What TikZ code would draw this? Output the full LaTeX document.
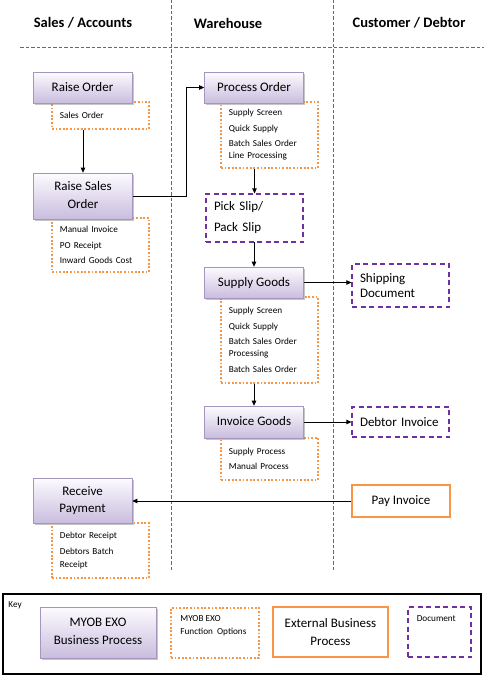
\documentclass[tikz,border=0pt]{standalone}
\usepackage{fontspec}
\setmainfont{Carlito}
\usetikzlibrary{arrows.meta,shadows}

\definecolor{lanecol}{RGB}{60,110,200}
\definecolor{exoorange}{RGB}{247,150,70}
\definecolor{docpurple}{RGB}{112,48,160}
\definecolor{proccol}{RGB}{165,150,190}
\definecolor{proctop}{RGB}{253,251,255}
\definecolor{procbottom}{RGB}{201,189,222}

\begin{document}
\begin{tikzpicture}
    [
      x=1pt, y=-1pt,
      >/.tip={Triangle[length=5pt,width=4.5pt]},
      line width=0.8pt,
      my lane/.style={draw=lanecol, line width=0.9pt, dash pattern=on 3.5pt off 2pt},
      my heading/.style={font=\fontsize{14.5}{17}\selectfont\bfseries},
      my process/.style={draw=proccol, line width=0.6pt, top color=proctop, bottom color=procbottom,
        minimum width=99pt, minimum height=31pt, align=center, font=\fontsize{13}{17.6}\selectfont,
        text depth=2pt,
        drop shadow={shadow xshift=1.5pt, shadow yshift=-2pt, fill=black!50, opacity=0.45}},
      my options/.style={draw=exoorange, line width=1.8pt, dash pattern=on 1.8pt off 1.8pt, anchor=north west,
        text width=81pt, inner xsep=8pt, align=left, font=\fontsize{9.2}{12.3}\selectfont},
      my document/.style={draw=docpurple, line width=1.2pt, dash pattern=on 5pt off 3.5pt,
        text width=81pt, inner xsep=8pt, align=left, font=\fontsize{13}{15.5}\selectfont},
      my external/.style={draw=exoorange, line width=2pt, minimum width=98pt, minimum height=32pt,
        align=center, font=\fontsize{13}{17.6}\selectfont},
      my small/.style={font=\fontsize{9.2}{12.3}\selectfont, align=left, inner sep=0pt, anchor=north west}
    ]
    \useasboundingbox (0,0) rectangle (484,676);

    \path [my lane] (171,0) -- (171,571);
    \path [my lane] (333,0) -- (333,571);
    \path [my lane] (20,47) -- (484,47);
    \node (sa) [my heading] at (83,23) {Sales / Accounts};
    \node (wh) [my heading] at (228,23) {Warehouse};
    \node (cd) [my heading] at (409,23) {Customer / Debtor};

    \node (roopt) [my options, minimum height=27pt] at (51,101) {Sales Order};
    \node (rsoopt) [my options, minimum height=54pt] at (51,217) {Manual Invoice\\[3.3pt] PO Receipt\\[3.3pt] Inward Goods Cost};
    \node (poopt) [my options, minimum height=66pt] at (220,101) {Supply Screen\\[3pt] Quick Supply\\[3pt] Batch Sales Order\\ Line Processing};
    \node (sgopt) [my options, minimum height=86pt] at (220,296) {Supply Screen\\[3.3pt] Quick Supply\\[3pt] Batch Sales Order\\ Processing\\[3.3pt] Batch Sales Order};
    \node (igopt) [my options, minimum height=42pt] at (220,437) {Supply Process\\[3.3pt] Manual Process};
    \node (rpopt) [my options, minimum height=55pt] at (51,522) {Debtor Receipt\\[4pt] Debtors Batch\\ Receipt};

    \node (ro) [my process] at (82.5,87.5) {Raise Order};
    \node (rso) [my process, minimum height=46pt] at (83,196) {Raise Sales\\Order};
    \node (po) [my process] at (254,87.5) {Process Order};
    \node (sg) [my process] at (254,282.5) {Supply Goods};
    \node (ig) [my process, minimum height=32pt] at (254,422) {Invoice Goods};
    \node (rp) [my process, minimum height=45pt] at (82.5,500.5) {Receive\\Payment};

    \node (pick) [my document, minimum height=48pt] at (254.5,218) {Pick Slip/\\[5.5pt] Pack Slip};
    \node (ship) [my document, minimum height=43pt] at (400.5,285.5) {Shipping\\Document};
    \node (dinv) [my document, minimum height=30pt] at (400.5,422) {Debtor Invoice};
    \node (pay) [my external] at (401,501) {Pay Invoice};

    \path [->, draw] (rso.north |- roopt.south) -- (rso.north);
    \path [->, draw] (rso.east) -- ++(54,0) |- (po.west);
    \path [->, draw] (pick.north |- poopt.south) -- (pick.north);
    \path [->, draw] (pick.south) -- (sg.north |- pick.south) -- (sg.north);
    \path [->, draw] (ig.north |- sgopt.south) -- (ig.north);
    \path [->, draw] (sg.east) -- (sg.east -| ship.west);
    \path [->, draw] (ig.east) -- (ig.east -| dinv.west);
    \path [->, draw] (pay.west) -- (rp.east |- pay.west);

    \draw [line width=1.2pt] (3,594) rectangle (481,674);
    \node (key) [my small] at (8,601) {Key};
    \node (kproc) [my process, minimum width=116pt, minimum height=51pt] at (98,632.5) {MYOB EXO\\Business Process};
    \node (kopt) [my options, text width=72pt, minimum height=50pt] at (170,607) {};
    \node (kopttext) [my small] at ([shift={(10,8.5)}]kopt.north west) {MYOB EXO\\ Function\ \ Options};
    \node (kext) [my external, minimum width=115pt, minimum height=50pt] at (330.5,632) {External Business\\Process};
    \node (kdoc) [my document, text width=47pt, minimum height=50pt] at (439.5,632) {};
    \node (kdoctext) [my small] at ([shift={(9,8.5)}]kdoc.north west) {Document};
  \end{tikzpicture}
\end{document}
